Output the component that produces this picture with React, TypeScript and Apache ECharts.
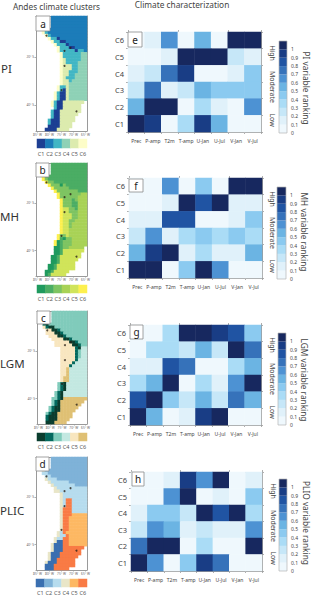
import React, { useEffect, useRef } from "react";
import * as echarts from "echarts";

const variables = ["Prec", "P-amp", "T2m", "T-amp", "U-Jan", "U-Jul", "V-Jan", "V-Jul"];
const clusters = ["C1", "C2", "C3", "C4", "C5", "C6"];
const rankLevels = [0, 0.1, 0.2, 0.3, 0.4, 0.5, 0.6, 0.7, 0.8, 0.9, 1];
const rankColors = ["#eff8fd", "#e0f1fa", "#c6e7f8", "#aadcf6", "#8bcaf0", "#6bb4e3", "#4d92d3", "#3672ba", "#2054a3", "#193d85", "#17285f"];

// rows listed from C6 (top) to C1 (bottom)
const piRanks = [
  [0, 0.1, 0.6, 0, 0.5, 0, 1, 1],
  [0, 0, 0.1, 1, 1, 1, 0.2, 0.1],
  [0.1, 0.2, 0.7, 0.9, 0, 0, 0.1, 0.4],
  [0.2, 0.7, 0.1, 0.2, 0.5, 0.4, 0.4, 0.4],
  [0.5, 1, 1, 0, 0.3, 0.1, 0, 0.6],
  [1, 0.9, 0, 0.3, 0.9, 0.5, 0, 0],
];
const mhRanks = [
  [0, 0, 0.6, 0, 0.4, 0, 1, 1],
  [0, 0, 0.1, 1, 0.8, 1, 0.1, 0.1],
  [0.1, 0.1, 0.8, 0.8, 0, 0, 0.1, 0.4],
  [0.2, 0.6, 0.1, 0.3, 0.4, 0.3, 0.4, 0.3],
  [0.5, 0.9, 1, 0.1, 0.3, 0.1, 0.1, 0.5],
  [1, 1, 0, 0.4, 1, 0.6, 0, 0],
];
const lgmRanks = [
  [0, 0, 0.3, 1, 1, 0.9, 0.8, 0.4],
  [0, 0.3, 0.3, 0.2, 0.5, 0.2, 1, 0.7],
  [0.1, 0.1, 0.8, 0.7, 0, 0, 0.3, 0.5],
  [0.3, 0.5, 1, 0, 0.3, 0.1, 0.6, 1],
  [0.8, 1, 0.4, 0.2, 0.5, 0.2, 0.7, 0.5],
  [1, 0.5, 0, 0.1, 0.9, 1, 0, 0],
];
const plioRanks = [
  [0, 0, 0.1, 0.9, 0.6, 1, 0, 0.1],
  [0, 0, 0.6, 1, 0, 0.1, 0, 0.4],
  [0.1, 0.4, 0.4, 0.2, 1, 0.8, 1, 0.3],
  [0.2, 0.6, 0.5, 0.1, 0.2, 0.1, 0.1, 0.6],
  [0.7, 1, 1, 0, 0.3, 0, 0, 1],
  [1, 0.6, 0, 0.4, 0.9, 0.7, 0, 0],
];

const piColors = ["#1d3f93", "#1c7cb9", "#41b6c4", "#8ed1b6", "#dcebae", "#fdfdc8"];
const mhColors = ["#1f9a5e", "#4bad64", "#7ec462", "#a8d256", "#d0e45a", "#fdf04e"];
const lgmColors = ["#0a3d2e", "#03695e", "#80cbbb", "#c3e8e1", "#f8e6bf", "#dfc074"];
const plicColors = ["#3a6fb0", "#7fb2d8", "#b6dcee", "#e9e6c8", "#fdb863", "#f97b45"];

// One character per cell, digit = cluster number, dot = no land
const piMap = [
  ".....222222222222", ".....222222222222", ".....222222222222", ".....222222222222",
  "..622222222222222", "..632222222222222", "...63222222222222", "....6331222222222",
  ".....633112222222", "......63331222222", ".......6333112222", ".......6333331332",
  "........633333344", "........633333344", "........653333344", "........653333444",
  "........655533444", "........655533444", "........655333444", "........655334444",
  "........653334444", "........655344444", "........655444444", ".......6335444444",
  ".......6315444444", "......63115444444", "......63115444444", "......63115444444",
  ".....63115555555.", ".....6311555555..", "......311555555..", ".....3115555555..",
  ".....311555555...", ".....31155555....", "....311155555....", "....31115555.....",
  "....11115555.....", "...11115555......",
];
const mhMap = [
  ".....222222222222", ".....222222222222", ".....222222222222", ".....222222222222",
  "..622222222222222", "..632222222222222", "...63322222222222", "....6333132222222",
  ".....633333222222", "......63333333222", ".......6333333344", ".......6333333444",
  "........633323444", "........633322444", "........633322444", "........655332444",
  "........655333444", "........655533444", "........655533444", "........655334444",
  "........655344444", "........655344444", "........655444444", "........655444444",
  ".......6335444444", ".......6213344444", "......61233344444", "......61233344444",
  "......1123344444.", "......1125555555.", "......112555555..", ".....1125555555..",
  ".....112555555...", ".....11255555....", "....112555555....", "....112555555....",
  "...11255555......", "...1255555.......",
];
const lgmMap = [
  ".....333333333333", ".....333333333333", ".....333333333333", ".....333333333333",
  "..213333333333333", "..521133333333333", "...55112333333333", "...55511233333333",
  "....5551123333333", ".....555511233333", "......55555112333", "......55555511233",
  "........555552144", "........555552344", "........555552344", "........555552344",
  "........555552444", "........555524444", "........555244444", "........556444444",
  "........556444444", "........556444444", "........566444444", "........566444444",
  ".......3214444444", ".......3214444444", ".......3214444444", "......32144444444",
  "......32144444444", ".....332166666666", ".....32166666666.", ".....3216666666..",
  "....3211666666...", "....321166666....", "...321166666.....", "...211166666.....",
  "...21116666......", "...1116666.......",
];
const plicMap = [
  ".....222222222222", ".....222222222222", ".....222222222222", ".....222222222222",
  "..422222222222222", "..332222222222222", "...33222222222222", "...43332222222222",
  "....4333333222222", ".....433333332222", "......43333333333", "......44333333333",
  "........433333333", "........433333333", "........436633333", "........436633333",
  "........436633333", "........466633333", "........466633333", "........466655555",
  "........466555555", "........466555555", "........466555555", "........466555555",
  "........466555555", ".......4365555555", ".......4336555555", "......43366555555",
  "......41166555555", ".....411166555555", ".....41116666666.", ".....4111666666..",
  "....41116666666..", "....4111666666...", "....411666666....", "...4111666666....",
  "...1116666666....", "...11166666......",
];
const mapSites = [[3, 6], [11, 10], [9, 11], [9, 16], [8, 24], [13, 31]];
const latTicks: Record<number, string> = { 13: "20° S", 29: "40° S" };
const lonTicks: Record<number, string> = { 0: "85° W", 4: "80° W", 8: "75° W", 12: "70° W", 16: "65° W" };

const FONT = "Noto Sans";
const INK = "#444";
const FRAME = "#9a9a9a";

function buildOption() {
  const grid: any[] = [];
  const xAxis: any[] = [];
  const yAxis: any[] = [];
  const series: any[] = [];
  const graphic: any[] = [];
  const visualMap: any[] = [];
  const rankSeries: number[] = [];

  const addGrid = (box: number[], x: any, y: any, xTop?: any, yRight?: any) => {
    const g = grid.length;
    grid.push({ left: box[0], top: box[1], width: box[2], height: box[3], containLabel: false });
    const xi = xAxis.length;
    const yi = yAxis.length;
    xAxis.push({ gridIndex: g, position: "bottom", ...x });
    yAxis.push({ gridIndex: g, position: "left", ...y });
    if (xTop) xAxis.push({ gridIndex: g, position: "top", ...xTop });
    if (yRight) yAxis.push({ gridIndex: g, position: "right", ...yRight });
    return { xi, yi };
  };
  const line = { show: true, lineStyle: { color: FRAME, width: 1 } };
  const tick = { show: true, length: 2, lineStyle: { color: FRAME, width: 0.8 } };
  const noMark = { axisLine: { show: false }, axisTick: { show: false }, axisLabel: { show: false }, splitLine: { show: false } };
  const frameCat = (data: string[], withTick: boolean) => ({
    type: "category", data, axisLine: line,
    axisTick: withTick ? tick : { show: false },
    axisLabel: { show: false }, splitLine: { show: false },
  });

  const addText = (text: string, x: number, y: number, size: number, extra: any = {}) => {
    graphic.push({
      type: "text", x, y, z: 50, rotation: extra.rotation ?? 0,
      style: {
        text, fontFamily: FONT, fontSize: size, fill: extra.fill ?? INK,
        textAlign: extra.align ?? "center", textVerticalAlign: "middle",
      },
    });
  };
  const addBadge = (letter: string, box: number[]) => {
    graphic.push({
      type: "rect", z: 40,
      shape: { x: box[0], y: box[1], width: box[2], height: box[3] },
      style: { fill: "#fff", stroke: "#8a8a8a", lineWidth: 0.8 },
    });
    addText(letter, box[0] + box[2] / 2, box[1] + box[3] / 2, 10, { fill: "#222" });
  };

  const addMap = (rows: string[], colors: string[], box: number[], barBox: number[]) => {
    const cols = Array.from({ length: rows[0].length }, (_, i) => String(i));
    const rowNames = rows.map((_, i) => String(i));
    const small = { fontSize: 3.2, color: "#666", fontFamily: FONT };
    const { xi, yi } = addGrid(
      box,
      {
        ...frameCat(cols, true),
        axisTick: { ...tick, length: 1.5, alignWithLabel: true, interval: (i: number) => i in lonTicks },
        axisLabel: { show: true, ...small, margin: 2, interval: 0, formatter: (_: string, i: number) => lonTicks[i] ?? "" },
      },
      {
        ...frameCat(rowNames, true), inverse: true,
        axisTick: { ...tick, length: 1.5, alignWithLabel: true, interval: (i: number) => i in latTicks },
        axisLabel: { show: true, ...small, margin: 2, interval: 0, formatter: (_: string, i: number) => latTicks[i] ?? "" },
      },
      { ...frameCat(cols, false) },
      { ...frameCat(rowNames, false), inverse: true },
    );
    const cells: number[][] = [];
    rows.forEach((row, r) => {
      row.split("").forEach((ch, c) => {
        if (ch !== ".") cells.push([c, r, Number(ch)]);
      });
    });
    const mapIndex = series.length;
    series.push({ type: "heatmap", xAxisIndex: xi, yAxisIndex: yi, data: cells, silent: true });
    series.push({
      type: "scatter", xAxisIndex: xi, yAxisIndex: yi, data: mapSites, symbolSize: 2,
      itemStyle: { color: "#2a2118" }, silent: true, z: 5,
    });
    const leg = addGrid(
      barBox,
      {
        type: "category", data: clusters, axisLine: { show: false }, axisTick: { show: false },
        axisLabel: { fontSize: 5.5, color: "#555", margin: 2.5, interval: 0, fontFamily: FONT },
      },
      { type: "category", data: ["k"], ...noMark },
    );
    const legIndex = series.length;
    series.push({
      type: "heatmap", xAxisIndex: leg.xi, yAxisIndex: leg.yi, silent: true,
      data: colors.map((_, i) => [i, 0, i + 1]),
    });
    visualMap.push({
      type: "piecewise", show: false, seriesIndex: [mapIndex, legIndex], dimension: 2,
      pieces: colors.map((color, i) => ({ value: i + 1, color })),
    });
  };

  const addHeat = (ranks: number[][], box: number[]) => {
    const ylab = { fontSize: 7.5, color: INK, margin: 4, fontFamily: FONT };
    const { xi, yi } = addGrid(
      box,
      { ...frameCat(variables, true), axisLabel: { show: true, fontSize: 5, color: INK, margin: 6, interval: 0, fontFamily: FONT } },
      { ...frameCat(clusters, true), axisLabel: { show: true, ...ylab, interval: 0 } },
      frameCat(variables, true),
      frameCat(clusters, true),
    );
    const cells: number[][] = [];
    ranks.forEach((row, r) => row.forEach((v, c) => {
      cells.push([c, ranks.length - 1 - r, v]);
    }));
    rankSeries.push(series.length);
    series.push({ type: "heatmap", xAxisIndex: xi, yAxisIndex: yi, data: cells, silent: true });
  };

  const addScale = (box: number[]) => {
    const { xi, yi } = addGrid(
      box,
      { type: "value", min: 0, max: 1, ...noMark },
      {
        type: "value", min: 0, max: 1.1, interval: 0.1, position: "right",
        axisLine: { show: false }, axisTick: { show: false }, splitLine: { show: false },
        axisLabel: {
          fontSize: 5, color: INK, margin: 4, fontFamily: FONT,
          formatter: (v: number) => (v > 1.05 ? "" : String(Math.round(v * 10) / 10)),
        },
      },
    );
    series.push({
      type: "custom", xAxisIndex: xi, yAxisIndex: yi, silent: true,
      data: rankLevels.map((v) => [v]),
      encode: { y: 0 },
      renderItem: (_: any, api: any) => {
        const v = api.value(0);
        const a = api.coord([0, v + 0.1]);
        const b = api.coord([1, v]);
        return {
          type: "rect",
          shape: { x: a[0], y: a[1], width: b[0] - a[0], height: b[1] - a[1] },
          style: { fill: rankColors[Math.round(v * 10)] },
        };
      },
    });
    graphic.push({
      type: "rect", z: 30,
      shape: { x: box[0], y: box[1], width: box[2], height: box[3] },
      style: { fill: "none", stroke: "#b5b5b5", lineWidth: 0.7 },
    });
  };

  const rot = -Math.PI / 2;
  const addSide = (x: number, high: number, mod: number, low: number) => {
    addText("High", x, high, 7, { rotation: rot });
    addText("Moderate", x, mod, 7, { rotation: rot });
    addText("Low", x, low, 7, { rotation: rot });
  };

  addText("Andes climate clusters", 56.5, 6, 8.3);
  addText("Climate characterization", 182, 4, 8.3);

  addMap(piMap, piColors, [36, 16, 51, 115], [37, 139, 50, 9]);
  addMap(mhMap, mhColors, [36, 163, 51, 113], [37, 285, 50, 8]);
  addMap(lgmMap, lgmColors, [37, 311, 50, 113], [37, 433, 50, 8]);
  addMap(plicMap, plicColors, [36, 457, 51, 113], [36, 579, 51, 8]);

  addHeat(piRanks, [128, 32, 133, 100]);
  addHeat(mhRanks, [129, 178, 133, 100]);
  addHeat(lgmRanks, [130, 325, 131, 100]);
  addHeat(plioRanks, [131, 472, 131, 99]);

  visualMap.push({
    type: "piecewise", show: false, seriesIndex: rankSeries, dimension: 2,
    pieces: rankLevels.map((v, i) => ({ gte: v - 0.05, lt: v + 0.05, color: rankColors[i] })),
  });

  addScale([279, 41, 8, 92]);
  addScale([277, 187, 9, 92]);
  addScale([278, 333, 8, 92]);
  addScale([279, 479, 8, 92]);

  addSide(272, 53, 87, 120);
  addSide(272, 199, 233, 266);
  addSide(272, 345, 379, 412);
  addSide(273, 491, 526, 558);

  addText("PI variable ranking", 306, 88, 8.3, { rotation: rot });
  addText("MH variable ranking", 304, 232, 8.3, { rotation: rot });
  addText("LGM variable ranking", 304, 380, 8.3, { rotation: rot });
  addText("PLIO variable ranking", 306, 523, 8.3, { rotation: rot });

  addText("PI", 1, 68, 11.5, { align: "left", fill: "#333" });
  addText("MH", 0, 216, 11.5, { align: "left", fill: "#333" });
  addText("LGM", 0, 363, 11.5, { align: "left", fill: "#333" });
  addText("PLIC", 0, 510, 11.5, { align: "left", fill: "#333" });

  addBadge("a", [36, 16, 14, 15]);
  addBadge("b", [36, 163, 13, 14]);
  addBadge("c", [37, 311, 13, 13]);
  addBadge("d", [36, 457, 13, 14]);
  addBadge("e", [128, 32, 14, 15]);
  addBadge("f", [129, 179, 14, 13]);
  addBadge("g", [130, 325, 13, 14]);
  addBadge("h", [132, 472, 12, 14]);

  return { animation: false, backgroundColor: "#fff", grid, xAxis, yAxis, series, graphic, visualMap };
}

export default function App() {
  const ref = useRef<HTMLDivElement>(null);
  useEffect(() => {
    const chart = echarts.init(ref.current!, undefined, { renderer: "svg" });
    chart.setOption(buildOption() as any);
    return () => chart.dispose();
  }, []);
  return <div ref={ref} style={{ position: "fixed", left: 0, top: 0, width: 320, height: 598 }} />;
}
